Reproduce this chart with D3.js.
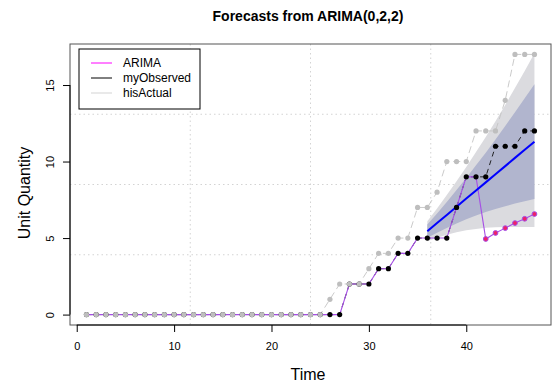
<!DOCTYPE html>
<html>
<head>
<meta charset="utf-8">
<script src="https://cdn.jsdelivr.net/npm/d3@7"></script>
<style>
  body { margin: 0; background: #fff; }
  svg { font-family: "Liberation Sans", Arial, sans-serif; }
</style>
</head>
<body>
<svg id="chart" width="555" height="383"></svg>
<script>
// time index 1..47
const time = d3.range(1, 48)

const hisActual = [0,0,0,0,0,0,0,0,0,0,0,0,0,0,0,0,0,0,0,0,0,0,0,0,0,
    1,2,2,2,3,4,4,5,5,7,7,8,10,10,10,12,12,12,14,17,17,17]
const myObserved = [0,0,0,0,0,0,0,0,0,0,0,0,0,0,0,0,0,0,0,0,0,0,0,0,0,0,0,
    2,2,2,3,3,4,4,5,5,5,5,7,9,9,9,11,11,11,12,12]

// ARIMA line: follows the observed series, then its own forecast points
const arimaTime = d3.range(1, 48)
const arimaVals = [0,0,0,0,0,0,0,0,0,0,0,0,0,0,0,0,0,0,0,0,0,0,0,0,0,0,0,
    2,2,2,3,3,4,4,5,5,5,5,7,9,9,4.94,5.33,5.65,5.98,6.26,6.57]
const arimaPtsTime = [42,43,44,45,46,47]
const arimaPts = [4.94,5.33,5.65,5.98,6.26,6.57]

// forecast from t=36
const fcTime = [36,37,38,39,40,41,42,43,44,45,46,47]
const fcMean = [5.45,5.98,6.51,7.05,7.58,8.11,8.64,9.17,9.70,10.24,10.77,11.30]
const lo80 = [5.02,5.35,5.66,5.96,6.23,6.47,6.70,6.90,7.08,7.26,7.40,7.55]
const hi80 = [5.88,6.61,7.36,8.14,8.93,9.75,10.58,11.44,12.32,13.22,14.14,15.05]
const lo95 = [4.80,5.02,5.21,5.38,5.51,5.60,5.67,5.70,5.72,5.72,5.72,5.72]
const hi95 = [6.10,6.94,7.81,8.72,9.65,10.62,11.61,12.64,13.70,14.80,15.92,17.07]

const xTicks = [0,10,20,30,40]
const yTicks = [0,5,10,15]

const legendItems = [
    {label: "ARIMA", color: "#ff00ff"},
    {label: "myObserved", color: "#000000"},
    {label: "hisActual", color: "#d3d3d3"}
]

const W = 555, H = 383
const margin = {top: 44, right: 4, bottom: 58, left: 70}

const svg = d3.select("#chart")

const fx = d3.scaleLinear()
    .domain([-0.69, 48.7])
    .range([margin.left, W - margin.right])
const fy = d3.scaleLinear()
    .domain([-0.68, 17.68])
    .range([H - margin.bottom, margin.top])

// grid: plot region split in 4 x 4
const [x0, x1] = fx.range(), [y0, y1] = fy.range()
const g = svg.append("g")
d3.range(1, 4).forEach(i => {
    g.append("line")
        .attr("x1", x0 + (x1 - x0) * i / 4).attr("x2", x0 + (x1 - x0) * i / 4)
        .attr("y1", y1).attr("y2", y0)
        .attr("stroke", "#d3d3d3").attr("stroke-dasharray", "1.5,3")
    g.append("line")
        .attr("y1", y0 + (y1 - y0) * i / 4).attr("y2", y0 + (y1 - y0) * i / 4)
        .attr("x1", x0).attr("x2", x1)
        .attr("stroke", "#d3d3d3").attr("stroke-dasharray", "1.5,3")
})

// forecast bands
const band = (lo, hi) => d3.area()
    .x((d, i) => fx(fcTime[i]))
    .y0((d, i) => fy(lo[i]))
    .y1((d, i) => fy(hi[i]))
svg.append("path").datum(fcTime)
    .attr("fill", "#dbdbdf").attr("d", band(lo95, hi95))
svg.append("path").datum(fcTime)
    .attr("fill", "#b1b5ce").attr("d", band(lo80, hi80))

const line = (xs, ys) => d3.line()
    .x((d, i) => fx(xs[i]))
    .y((d, i) => fy(ys[i]))

svg.append("path").datum(time)
    .attr("fill", "none").attr("stroke", "#c4c4c4").attr("stroke-width", 0.9)
    .attr("stroke-dasharray", "7,4")
    .attr("d", line(time, hisActual))
svg.append("path").datum(time)
    .attr("fill", "none").attr("stroke", "#111").attr("stroke-width", 0.9)
    .attr("stroke-dasharray", "5,4")
    .attr("d", line(time, myObserved))
svg.append("path").datum(arimaTime)
    .attr("fill", "none").attr("stroke", "#a64ee6").attr("stroke-width", 1.1)
    .attr("d", line(arimaTime, arimaVals))

svg.append("path").datum(fcTime)
    .attr("fill", "none").attr("stroke", "#0000ff").attr("stroke-width", 2)
    .attr("d", line(fcTime, fcMean))

svg.append("g").selectAll("circle")
    .data(time)
    .join("circle")
    .attr("cx", d => fx(d))
    .attr("cy", (d, i) => fy(myObserved[i]))
    .attr("r", 2.6)
    .attr("fill", "#000")

svg.append("g").selectAll("circle")
    .data(time)
    .join("circle")
    .attr("cx", d => fx(d))
    .attr("cy", (d, i) => fy(hisActual[i]))
    .attr("r", 2.6)
    .attr("fill", "#bebebe")

svg.append("g").selectAll("circle")
    .data(arimaPtsTime)
    .join("circle")
    .attr("cx", d => fx(d))
    .attr("cy", (d, i) => fy(arimaPts[i]))
    .attr("r", 2.4)
    .attr("fill", "#ee2266")
    .attr("stroke", "#a64ee6").attr("stroke-width", 1)

// box
svg.append("rect")
    .attr("x", x0).attr("y", y1)
    .attr("width", x1 - x0).attr("height", y0 - y1)
    .attr("fill", "none").attr("stroke", "#555")

// axes
const ax = svg.append("g")
    .attr("transform", "translate(0," + y0 + ")")
    .call(d3.axisBottom(fx).tickValues(xTicks).tickSize(7).tickPadding(10))
ax.select(".domain").attr("d", "M" + fx(xTicks[0]) + ",0H" + fx(xTicks[xTicks.length - 1]))
ax.selectAll("text").attr("font-size", 11).attr("font-family", "Liberation Sans, Arial")

const ay = svg.append("g")
    .attr("transform", "translate(" + x0 + ",0)")
    .call(d3.axisLeft(fy).tickValues(yTicks).tickSize(7).tickPadding(0))
ay.select(".domain").attr("d", "M0," + fy(yTicks[0]) + "V" + fy(yTicks[yTicks.length - 1]))
ay.selectAll("text")
    .attr("font-size", 11).attr("font-family", "Liberation Sans, Arial")
    .attr("text-anchor", "middle")
    .attr("x", 0).attr("dy", 0)
    .attr("transform", "translate(-20,0) rotate(-90)")
    .attr("y", 4)

// legend
const lg = svg.append("g")
lg.append("rect")
    .attr("x", 79).attr("y", 49).attr("width", 121).attr("height", 60)
    .attr("fill", "#fff").attr("stroke", "#000")
legendItems.forEach((l, i) => {
    lg.append("line")
        .attr("x1", 91).attr("x2", 112)
        .attr("y1", 63 + i * 15).attr("y2", 63 + i * 15)
        .attr("stroke", l.color)
    lg.append("text")
        .attr("x", 123).attr("y", 67 + i * 15)
        .attr("font-size", 12)
        .text(l.label)
})

svg.append("text")
    .attr("x", 308).attr("y", 21)
    .attr("text-anchor", "middle")
    .attr("font-size", 14).attr("font-weight", "bold")
    .text("Forecasts from ARIMA(0,2,2)")

svg.append("text")
    .attr("x", 308).attr("y", 380)
    .attr("text-anchor", "middle")
    .attr("font-size", 16)
    .text("Time")

svg.append("text")
    .attr("transform", "translate(30,193) rotate(-90)")
    .attr("text-anchor", "middle")
    .attr("font-size", 16)
    .text("Unit Quantity")
</script>
</body>
</html>
